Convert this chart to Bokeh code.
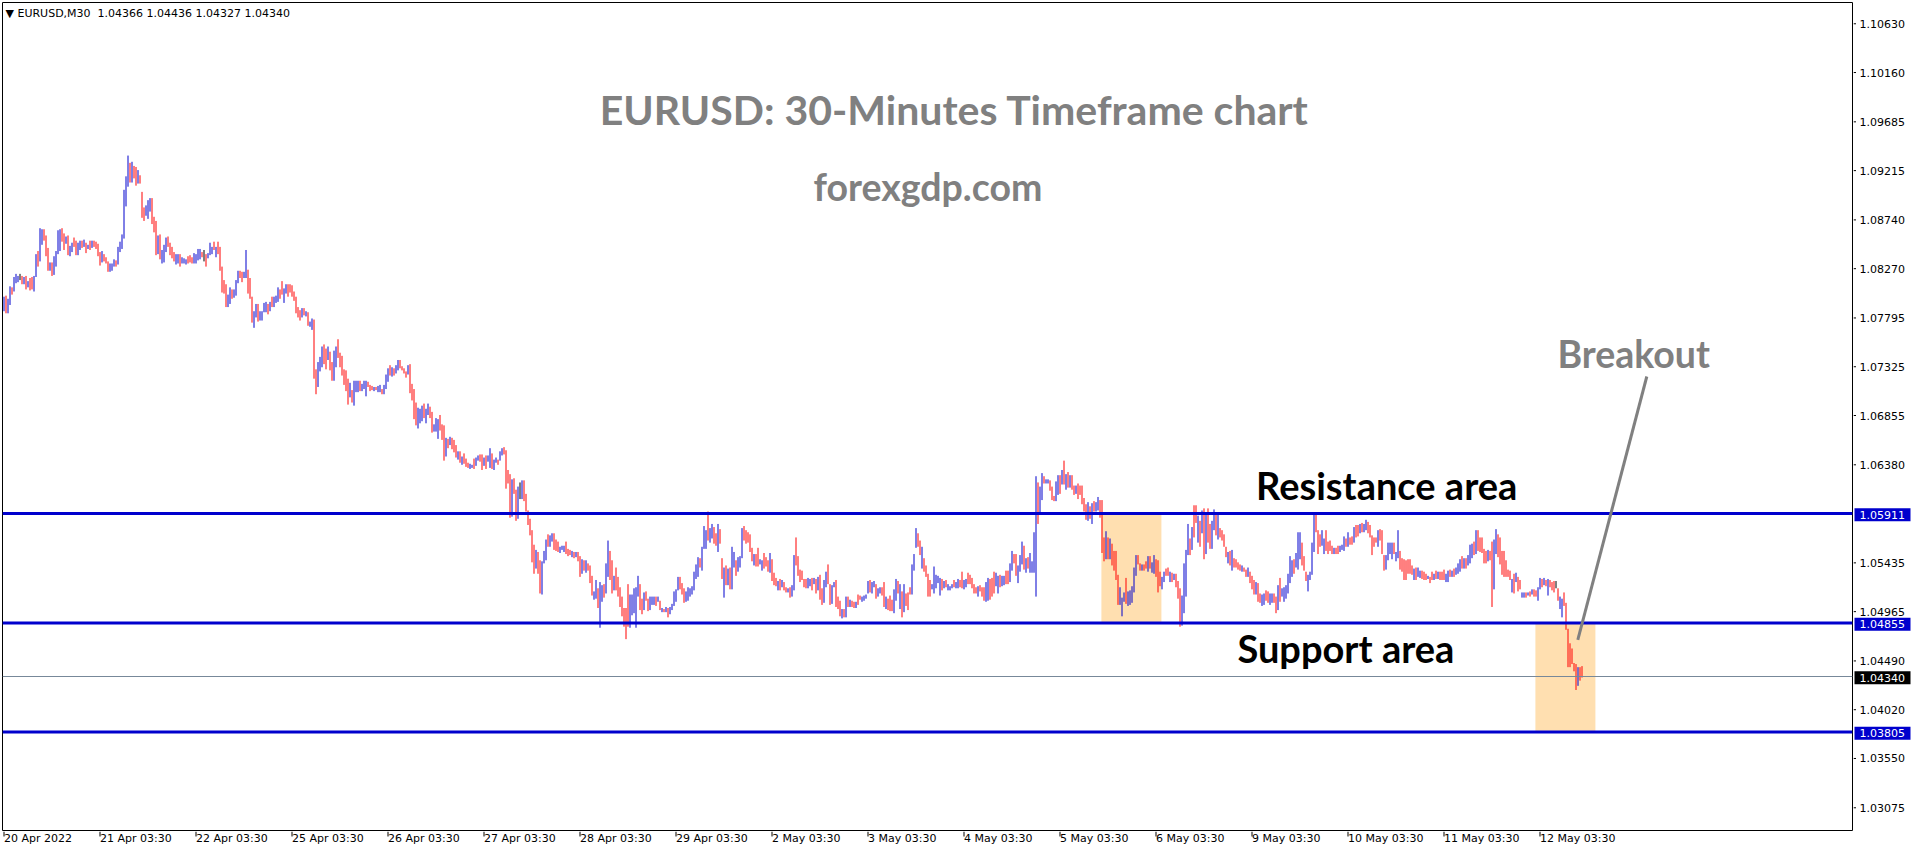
from bokeh.plotting import figure
from bokeh.models import ColumnDataSource, Span, Label, Arrow, Range1d
from bokeh.layouts import row, column
from bokeh.core.properties import value
from bokeh.embed import file_html
from bokeh.resources import INLINE

# ---------------- data (EURUSD M30 bars) ----------------
HIGH = [
 1.0800,1.0801,1.0798,1.0810,1.0809,1.0819,1.0822,1.0820,1.0822,1.0820,1.0819,1.0820,1.0815,1.0818,1.0819,1.0820,
 1.0841,1.0844,1.0866,1.0865,1.0865,1.0859,1.0847,1.0833,1.0833,1.0839,1.0844,1.0864,1.0865,1.0866,1.0861,1.0858,
 1.0859,1.0849,1.0852,1.0857,1.0854,1.0852,1.0854,1.0854,1.0855,1.0852,1.0850,1.0854,1.0854,1.0854,1.0853,1.0851,
 1.0843,1.0844,1.0841,1.0838,1.0834,1.0832,1.0832,1.0836,1.0835,1.0848,1.0853,1.0860,1.0903,1.0916,1.0936,1.0929,
 1.0930,1.0926,1.0925,1.0922,1.0917,1.0901,1.0886,1.0888,1.0893,1.0895,1.0895,1.0877,1.0873,1.0859,1.0860,1.0845,
 1.0850,1.0857,1.0858,1.0852,1.0848,1.0843,1.0841,1.0841,1.0841,1.0838,1.0837,1.0836,1.0839,1.0840,1.0838,1.0842,
 1.0841,1.0846,1.0846,1.0843,1.0845,1.0841,1.0842,1.0852,1.0848,1.0853,1.0848,1.0853,1.0848,1.0829,1.0816,1.0812,
 1.0802,1.0809,1.0807,1.0807,1.0816,1.0825,1.0825,1.0824,1.0824,1.0845,1.0826,1.0818,1.0800,1.0786,1.0793,1.0793,
 1.0786,1.0786,1.0794,1.0795,1.0793,1.0795,1.0800,1.0800,1.0801,1.0809,1.0807,1.0815,1.0808,1.0812,1.0812,1.0812,
 1.0811,1.0805,1.0800,1.0790,1.0787,1.0789,1.0789,1.0786,1.0785,1.0776,1.0779,1.0778,1.0730,1.0737,1.0742,1.0752,
 1.0754,1.0750,1.0752,1.0747,1.0737,1.0748,1.0752,1.0759,1.0746,1.0743,1.0730,1.0729,1.0721,1.0717,1.0710,1.0719,
 1.0719,1.0719,1.0719,1.0716,1.0719,1.0719,1.0718,1.0715,1.0714,1.0713,1.0713,1.0714,1.0715,1.0711,1.0715,1.0725,
 1.0731,1.0734,1.0732,1.0731,1.0734,1.0739,1.0739,1.0733,1.0731,1.0728,1.0734,1.0735,1.0716,1.0711,1.0698,1.0693,
 1.0692,1.0695,1.0697,1.0692,1.0697,1.0694,1.0689,1.0677,1.0683,1.0682,1.0686,1.0677,1.0676,1.0664,1.0663,1.0665,
 1.0664,1.0662,1.0657,1.0651,1.0651,1.0646,1.0649,1.0644,1.0640,1.0639,1.0638,1.0644,1.0645,1.0647,1.0648,1.0648,
 1.0645,1.0647,1.0647,1.0654,1.0649,1.0643,1.0645,1.0643,1.0651,1.0654,1.0655,1.0652,1.0633,1.0629,1.0624,1.0625,
 1.0614,1.0617,1.0621,1.0623,1.0623,1.0610,1.0594,1.0586,1.0575,1.0561,1.0556,1.0554,1.0546,1.0545,1.0555,1.0566,
 1.0571,1.0570,1.0572,1.0572,1.0566,1.0564,1.0559,1.0560,1.0560,1.0564,1.0557,1.0556,1.0555,1.0554,1.0554,1.0554,
 1.0550,1.0547,1.0546,1.0546,1.0543,1.0541,1.0531,1.0516,1.0527,1.0519,1.0525,1.0522,1.0523,1.0543,1.0565,1.0555,
 1.0546,1.0531,1.0539,1.0530,1.0520,1.0511,1.0500,1.0500,1.0523,1.0513,1.0513,1.0519,1.0520,1.0531,1.0523,1.0509,
 1.0515,1.0516,1.0509,1.0511,1.0511,1.0511,1.0511,1.0511,1.0507,1.0500,1.0499,1.0501,1.0500,1.0501,1.0504,1.0516,
 1.0518,1.0530,1.0530,1.0524,1.0519,1.0516,1.0520,1.0519,1.0521,1.0535,1.0542,1.0549,1.0548,1.0559,1.0579,1.0575,
 1.0593,1.0577,1.0581,1.0578,1.0572,1.0581,1.0576,1.0548,1.0539,1.0541,1.0538,1.0539,1.0559,1.0554,1.0546,1.0549,
 1.0550,1.0577,1.0579,1.0575,1.0573,1.0571,1.0558,1.0552,1.0552,1.0558,1.0547,1.0546,1.0553,1.0549,1.0546,1.0553,
 1.0547,1.0534,1.0529,1.0526,1.0528,1.0527,1.0525,1.0520,1.0519,1.0520,1.0522,1.0551,1.0568,1.0550,1.0537,1.0536,
 1.0528,1.0528,1.0529,1.0528,1.0529,1.0529,1.0528,1.0530,1.0532,1.0519,1.0527,1.0535,1.0542,1.0523,1.0522,1.0525,
 1.0527,1.0511,1.0507,1.0499,1.0499,1.0511,1.0511,1.0508,1.0507,1.0506,1.0506,1.0513,1.0512,1.0511,1.0512,1.0513,
 1.0526,1.0527,1.0525,1.0526,1.0523,1.0519,1.0520,1.0520,1.0525,1.0511,1.0509,1.0512,1.0508,1.0518,1.0528,1.0526,
 1.0523,1.0516,1.0523,1.0514,1.0515,1.0520,1.0542,1.0552,1.0577,1.0572,1.0565,1.0559,1.0548,1.0541,1.0533,1.0527,
 1.0523,1.0540,1.0532,1.0531,1.0529,1.0528,1.0526,1.0527,1.0523,1.0521,1.0523,1.0527,1.0525,1.0528,1.0527,1.0535,
 1.0527,1.0528,1.0534,1.0532,1.0529,1.0523,1.0520,1.0521,1.0522,1.0520,1.0520,1.0525,1.0529,1.0528,1.0529,1.0535,
 1.0534,1.0531,1.0532,1.0531,1.0531,1.0536,1.0536,1.0543,1.0555,1.0552,1.0552,1.0541,1.0551,1.0564,1.0560,1.0548,
 1.0549,1.0553,1.0545,1.0573,1.0627,1.0621,1.0617,1.0630,1.0627,1.0624,1.0624,1.0623,1.0617,1.0608,1.0622,1.0628,
 1.0628,1.0633,1.0642,1.0629,1.0631,1.0628,1.0628,1.0618,1.0618,1.0620,1.0618,1.0618,1.0606,1.0600,1.0602,1.0598,
 1.0601,1.0603,1.0602,1.0607,1.0604,1.0604,1.0568,1.0574,1.0568,1.0567,1.0562,1.0555,1.0555,1.0532,1.0520,1.0510,
 1.0515,1.0529,1.0516,1.0517,1.0521,1.0539,1.0551,1.0551,1.0543,1.0542,1.0542,1.0545,1.0550,1.0550,1.0544,1.0551,
 1.0547,1.0546,1.0535,1.0530,1.0535,1.0538,1.0539,1.0535,1.0534,1.0533,1.0533,1.0526,1.0519,1.0512,1.0543,1.0556,
 1.0581,1.0567,1.0578,1.0599,1.0599,1.0589,1.0584,1.0594,1.0596,1.0592,1.0596,1.0581,1.0584,1.0595,1.0592,1.0592,
 1.0577,1.0575,1.0571,1.0559,1.0554,1.0555,1.0556,1.0548,1.0547,1.0544,1.0542,1.0541,1.0539,1.0537,1.0539,1.0535,
 1.0531,1.0527,1.0525,1.0524,1.0514,1.0513,1.0514,1.0517,1.0516,1.0514,1.0514,1.0514,1.0511,1.0522,1.0529,1.0519,
 1.0520,1.0522,1.0533,1.0550,1.0546,1.0547,1.0553,1.0573,1.0573,1.0563,1.0550,1.0535,1.0532,1.0535,1.0563,1.0591,
 1.0591,1.0575,1.0571,1.0575,1.0567,1.0575,1.0564,1.0565,1.0560,1.0558,1.0558,1.0560,1.0560,1.0561,1.0569,1.0567,
 1.0573,1.0568,1.0569,1.0578,1.0580,1.0580,1.0581,1.0582,1.0581,1.0585,1.0583,1.0580,1.0570,1.0568,1.0568,1.0575,
 1.0576,1.0575,1.0551,1.0551,1.0563,1.0563,1.0563,1.0563,1.0554,1.0575,1.0555,1.0548,1.0547,1.0546,1.0547,1.0547,
 1.0541,1.0538,1.0539,1.0539,1.0536,1.0536,1.0535,1.0533,1.0531,1.0530,1.0535,1.0533,1.0536,1.0535,1.0535,1.0535,
 1.0537,1.0533,1.0536,1.0537,1.0536,1.0538,1.0539,1.0543,1.0547,1.0550,1.0548,1.0548,1.0551,1.0561,1.0562,1.0564,
 1.0575,1.0575,1.0568,1.0568,1.0557,1.0555,1.0556,1.0555,1.0564,1.0566,1.0576,1.0571,1.0568,1.0555,1.0555,1.0546,
 1.0537,1.0536,1.0528,1.0533,1.0534,1.0530,1.0527,1.0515,1.0515,1.0515,1.0515,1.0516,1.0518,1.0518,1.0517,1.0520,
 1.0529,1.0528,1.0529,1.0527,1.0528,1.0527,1.0525,1.0526,1.0526,1.0519,1.0511,1.0509,1.0515,1.0505,1.0480,1.0466,
 1.0461,1.0447,1.0446,1.0443,1.0443,1.0444,
]
LOW = [
 1.0786,1.0784,1.0784,1.0792,1.0802,1.0805,1.0813,1.0814,1.0816,1.0812,1.0812,1.0807,1.0809,1.0806,1.0807,1.0805,
 1.0819,1.0829,1.0834,1.0850,1.0854,1.0839,1.0825,1.0825,1.0820,1.0821,1.0829,1.0841,1.0844,1.0853,1.0845,1.0851,
 1.0840,1.0839,1.0843,1.0848,1.0840,1.0840,1.0845,1.0847,1.0848,1.0842,1.0846,1.0845,1.0847,1.0848,1.0846,1.0839,
 1.0830,1.0833,1.0834,1.0832,1.0824,1.0824,1.0825,1.0829,1.0829,1.0831,1.0843,1.0846,1.0856,1.0887,1.0906,1.0910,
 1.0910,1.0914,1.0907,1.0909,1.0909,1.0876,1.0873,1.0878,1.0875,1.0882,1.0870,1.0862,1.0840,1.0841,1.0836,1.0832,
 1.0833,1.0843,1.0848,1.0840,1.0837,1.0834,1.0831,1.0832,1.0829,1.0832,1.0832,1.0831,1.0832,1.0833,1.0832,1.0832,
 1.0832,1.0835,1.0836,1.0838,1.0834,1.0829,1.0837,1.0840,1.0841,1.0845,1.0838,1.0841,1.0825,1.0804,1.0803,1.0790,
 1.0790,1.0793,1.0798,1.0799,1.0801,1.0813,1.0818,1.0814,1.0818,1.0818,1.0803,1.0798,1.0775,1.0770,1.0780,1.0776,
 1.0777,1.0777,1.0785,1.0785,1.0783,1.0786,1.0790,1.0790,1.0794,1.0795,1.0798,1.0802,1.0794,1.0803,1.0800,1.0804,
 1.0800,1.0796,1.0784,1.0780,1.0777,1.0780,1.0782,1.0781,1.0772,1.0771,1.0768,1.0721,1.0706,1.0713,1.0728,1.0732,
 1.0735,1.0730,1.0739,1.0729,1.0719,1.0719,1.0732,1.0741,1.0732,1.0724,1.0715,1.0709,1.0696,1.0703,1.0698,1.0695,
 1.0708,1.0708,1.0709,1.0709,1.0711,1.0704,1.0713,1.0709,1.0710,1.0709,1.0710,1.0708,1.0708,1.0706,1.0706,1.0711,
 1.0718,1.0724,1.0723,1.0724,1.0726,1.0729,1.0731,1.0729,1.0726,1.0722,1.0725,1.0707,1.0700,1.0682,1.0676,1.0673,
 1.0678,1.0680,1.0683,1.0678,1.0686,1.0683,1.0669,1.0670,1.0670,1.0663,1.0671,1.0662,1.0642,1.0646,1.0654,1.0657,
 1.0653,1.0650,1.0645,1.0643,1.0640,1.0638,1.0639,1.0636,1.0635,1.0634,1.0635,1.0634,1.0637,1.0642,1.0641,1.0633,
 1.0637,1.0634,1.0641,1.0635,1.0634,1.0633,1.0640,1.0638,1.0642,1.0647,1.0648,1.0615,1.0620,1.0587,1.0588,1.0610,
 1.0584,1.0586,1.0605,1.0605,1.0603,1.0593,1.0580,1.0570,1.0544,1.0533,1.0538,1.0533,1.0514,1.0513,1.0543,1.0546,
 1.0559,1.0559,1.0564,1.0556,1.0555,1.0554,1.0553,1.0556,1.0554,1.0552,1.0550,1.0551,1.0549,1.0548,1.0549,1.0545,
 1.0530,1.0533,1.0536,1.0534,1.0536,1.0524,1.0512,1.0508,1.0509,1.0500,1.0481,1.0506,1.0510,1.0514,1.0530,1.0527,
 1.0514,1.0517,1.0517,1.0511,1.0501,1.0492,1.0482,1.0470,1.0482,1.0481,1.0493,1.0495,1.0481,1.0511,1.0498,1.0494,
 1.0498,1.0507,1.0497,1.0498,1.0503,1.0503,1.0502,1.0506,1.0498,1.0496,1.0496,1.0496,1.0491,1.0494,1.0498,1.0502,
 1.0506,1.0517,1.0518,1.0513,1.0505,1.0506,1.0507,1.0511,1.0513,1.0517,1.0528,1.0530,1.0539,1.0536,1.0557,1.0557,
 1.0565,1.0563,1.0567,1.0562,1.0560,1.0554,1.0562,1.0528,1.0510,1.0522,1.0522,1.0518,1.0518,1.0539,1.0531,1.0535,
 1.0539,1.0548,1.0565,1.0562,1.0563,1.0554,1.0545,1.0541,1.0540,1.0540,1.0542,1.0536,1.0538,1.0540,1.0535,1.0534,
 1.0526,1.0522,1.0521,1.0517,1.0517,1.0520,1.0517,1.0515,1.0515,1.0510,1.0511,1.0517,1.0541,1.0531,1.0525,1.0527,
 1.0520,1.0519,1.0519,1.0521,1.0517,1.0523,1.0514,1.0517,1.0508,1.0503,1.0505,1.0520,1.0523,1.0503,1.0504,1.0520,
 1.0501,1.0499,1.0492,1.0490,1.0491,1.0491,1.0501,1.0501,1.0501,1.0500,1.0500,1.0503,1.0508,1.0506,1.0507,1.0509,
 1.0514,1.0515,1.0514,1.0520,1.0509,1.0511,1.0514,1.0512,1.0501,1.0499,1.0498,1.0497,1.0497,1.0495,1.0507,1.0514,
 1.0499,1.0491,1.0496,1.0502,1.0498,1.0513,1.0513,1.0536,1.0558,1.0559,1.0551,1.0538,1.0535,1.0530,1.0511,1.0511,
 1.0518,1.0514,1.0519,1.0524,1.0512,1.0517,1.0519,1.0520,1.0517,1.0517,1.0519,1.0520,1.0519,1.0519,1.0520,1.0519,
 1.0518,1.0520,1.0523,1.0523,1.0519,1.0514,1.0514,1.0511,1.0516,1.0511,1.0507,1.0506,1.0507,1.0508,1.0511,1.0514,
 1.0521,1.0514,1.0520,1.0521,1.0522,1.0523,1.0523,1.0525,1.0536,1.0543,1.0531,1.0524,1.0535,1.0542,1.0537,1.0534,
 1.0538,1.0534,1.0534,1.0534,1.0511,1.0581,1.0592,1.0604,1.0620,1.0620,1.0620,1.0613,1.0604,1.0603,1.0603,1.0609,
 1.0610,1.0619,1.0619,1.0614,1.0616,1.0616,1.0614,1.0609,1.0610,1.0605,1.0609,1.0600,1.0593,1.0585,1.0584,1.0586,
 1.0581,1.0593,1.0593,1.0594,1.0587,1.0553,1.0545,1.0547,1.0547,1.0547,1.0541,1.0536,1.0527,1.0503,1.0503,1.0492,
 1.0506,1.0504,1.0502,1.0503,1.0505,1.0515,1.0531,1.0542,1.0536,1.0536,1.0536,1.0538,1.0535,1.0538,1.0534,1.0533,
 1.0530,1.0515,1.0521,1.0518,1.0525,1.0531,1.0531,1.0525,1.0525,1.0527,1.0520,1.0509,1.0482,1.0483,1.0495,1.0511,
 1.0551,1.0551,1.0556,1.0568,1.0582,1.0563,1.0559,1.0572,1.0547,1.0552,1.0563,1.0557,1.0557,1.0575,1.0570,1.0566,
 1.0568,1.0565,1.0559,1.0549,1.0543,1.0541,1.0536,1.0539,1.0539,1.0537,1.0536,1.0535,1.0535,1.0530,1.0530,1.0524,
 1.0518,1.0513,1.0513,1.0506,1.0505,1.0502,1.0503,1.0507,1.0505,1.0503,1.0505,1.0505,1.0495,1.0498,1.0506,1.0511,
 1.0506,1.0509,1.0514,1.0524,1.0530,1.0533,1.0539,1.0537,1.0547,1.0541,1.0536,1.0526,1.0516,1.0527,1.0532,1.0554,
 1.0573,1.0552,1.0559,1.0560,1.0552,1.0555,1.0552,1.0555,1.0552,1.0552,1.0552,1.0552,1.0554,1.0556,1.0555,1.0559,
 1.0559,1.0561,1.0561,1.0563,1.0568,1.0569,1.0572,1.0573,1.0573,1.0575,1.0572,1.0568,1.0551,1.0559,1.0563,1.0559,
 1.0565,1.0552,1.0536,1.0537,1.0546,1.0552,1.0547,1.0552,1.0545,1.0548,1.0537,1.0535,1.0527,1.0527,1.0533,1.0533,
 1.0532,1.0527,1.0527,1.0530,1.0529,1.0528,1.0527,1.0527,1.0528,1.0524,1.0527,1.0527,1.0528,1.0528,1.0527,1.0527,
 1.0527,1.0525,1.0525,1.0530,1.0530,1.0530,1.0532,1.0533,1.0535,1.0538,1.0538,1.0538,1.0541,1.0543,1.0548,1.0551,
 1.0552,1.0555,1.0554,1.0553,1.0543,1.0543,1.0545,1.0546,1.0501,1.0518,1.0552,1.0549,1.0542,1.0532,1.0530,1.0530,
 1.0530,1.0527,1.0515,1.0514,1.0525,1.0516,1.0518,1.0510,1.0510,1.0510,1.0512,1.0511,1.0513,1.0511,1.0511,1.0507,
 1.0518,1.0520,1.0522,1.0521,1.0512,1.0520,1.0517,1.0515,1.0519,1.0507,1.0499,1.0491,1.0502,1.0479,1.0443,1.0443,
 1.0446,1.0439,1.0421,1.0425,1.0430,1.0433,
]
# bar direction: u = bullish (blue), d = bearish (red), n = unchanged (black)
DIRS = "".join([
 "uduu","duuu","ndud","uddu", "uduu","dddu","duuu","uddu", "duud","duud","udud","uddd",
 "dudd","duuu","duuu","uuud", "uddu","dddu","uudd","dudu", "uudd","dduu","duuu","dddu",
 "uuud","nduu","udud","dddd", "uudu","uudd","uudd","duud", "uuuu","dudu","uudd","uudd",
 "dddd","dudu","duud","duuu", "ddud","duud","dddd","dudu", "uudu","uudd","dudu","uduu",
 "udud","uudd","ddud","dddu", "uudu","uddu","uudd","dudu", "dddu","dudd","duud","uudd",
 "uduu","duud","uudd","ddud", "dunu","dddd","ddud","duuu", "duud","dduu","uddd","udud",
 "dudu","dddu","uduu","duud", "dudd","dddd","duuu","uudd", "uddu","uudu","dudu","duuu",
 "uudd","duuu","uuuu","duuu", "duud","dudd","udud","uudu", "uudd","dddu","dduu","dddu",
 "dddu","dudd","uduu","dddd", "dduu","dudu","dduu","dduu", "dddu","dudu","ddud","duuu",
 "uduu","duud","dudd","duud", "udud","dduu","uddu","dddd", "uuuu","udud","uuud","uudd",
 "uudd","dddu","dddu","uddd", "uudu","uddu","uddu","uudu", "duuu","uduu","duud","dduu",
 "dudu","dudd","uddd","ddud", "uduu","dddu","dudd","dduu", "uduu","uuud","dudd","uduu",
 "dddu","uddu","dudd","duuu", "udud","dudu","dudd","uudu", "dddd","udud","dddu","ddud",
 "ddud","duud","duud","dudu", "uuuu","uduu","uddd","uuuu", "dddu","uddd","dudd","uuud",
 "uddu","ddud","uudd","dddu", "dddu","uuud","uudd","dddd", "dudu","uddd","uddu","dudd",
 "duud","uduu","udud","uuud", "uddd","ddud","duud","dddd", "ddud","uddu","udud","uddu",
 "udud","uddd","nduu","dddd", "dddu","dd",
])

BARS_PER_LABEL = 48
TICK_LABELS = ["20 Apr 2022", "21 Apr 03:30", "22 Apr 03:30", "25 Apr 03:30", "26 Apr 03:30",
               "27 Apr 03:30", "28 Apr 03:30", "29 Apr 03:30", "2 May 03:30", "3 May 03:30",
               "4 May 03:30", "5 May 03:30", "6 May 03:30", "9 May 03:30", "10 May 03:30",
               "11 May 03:30", "12 May 03:30"]
PRICE_TICKS = [1.10630, 1.10160, 1.09685, 1.09215, 1.08740, 1.08270, 1.07795, 1.07325,
               1.06855, 1.06380, 1.05435, 1.04965, 1.04490, 1.04020, 1.03550, 1.03075]
LEVELS = [1.05911, 1.04855, 1.03805]          # resistance / support / lower support
LAST_PRICE = 1.04340
HEADER_OHLC = [1.04366, 1.04436, 1.04327, 1.04340]
ZONE_LEFT = [548.7, 765.7]                    # bar index
ZONE_RIGHT = [578.7, 795.7]
ZONE_TOP = [1.05911, 1.04855]
ZONE_BOTTOM = [1.04855, 1.03805]

# ---------------- build ----------------
BLUE, RED = "#0000CD", "#FF0000"
FONT = value("DejaVu Sans")
PX = 1.0 / 10378.0          # price per screen pixel
n = min(len(HIGH), len(LOW))
dirs = (DIRS + "u" * n)[:n]
cmap = {"u": BLUE, "d": RED, "n": "#000000"}
src = ColumnDataSource(dict(
    x=list(range(n)), low=LOW[:n], high=HIGH[:n], color=[cmap[c] for c in dirs]))

xr = Range1d(-0.75, 924.25)
yr = Range1d(1.02856, 1.10835)

def bare(fig):
    fig.outline_line_color = None
    fig.background_fill_color = "white"
    fig.border_fill_color = "white"
    fig.xgrid.visible = False
    fig.ygrid.visible = False
    return fig

# main chart area
p = bare(figure(width=1853, height=831, x_range=xr, y_range=yr, output_backend="svg",
                toolbar_location=None, x_axis_location=None, y_axis_location=None,
                min_border_left=2, min_border_right=1, min_border_top=2, min_border_bottom=1))
p.outline_line_color = "black"

p.quad(left=ZONE_LEFT, right=ZONE_RIGHT, top=ZONE_TOP, bottom=ZONE_BOTTOM,
       fill_color="#FFDFB0", line_color=None)
p.segment(x0="x", y0="low", x1="x", y1="high", line_color="color",
          line_width=1, line_cap="butt", source=src)

p.add_layout(Span(location=LAST_PRICE, dimension="width", line_color="#778899", line_width=1))
for lv in LEVELS:
    p.add_layout(Span(location=lv, dimension="width", line_color=BLUE, line_width=3))

p.add_layout(Arrow(end=None, x_start=821.4, y_start=1.07231, x_end=786.9, y_end=1.04694,
                   line_color="#808080", line_width=3))

def lab(x, y, text, size, color, align="left", font="Lato", style="bold"):
    p.add_layout(Label(x=x, y=y, text=text, text_font=font, text_font_style=style,
                       text_font_size=size, text_color=color, text_align=align,
                       text_baseline="middle"))

lab(475.2, 1.09801, "EURUSD: 30-Minutes Timeframe chart", "41px", "#808080", align="center")
lab(462.0, 1.09060, "forexgdp.com", "37.5px", "#808080", align="center")
lab(626.0, 1.06190, "Resistance area", "38px", "black")
lab(616.7, 1.04615, "Support area", "38px", "black")
lab(776.7, 1.07450, "Breakout", "37.5px", "#808080")
header = "\u25bc EURUSD,M30\u00a0\u00a0" + " ".join(f"{v:.5f}" for v in HEADER_OHLC)
lab(0.75, 1.10733, header, "11px", "black", font="DejaVu Sans", style="normal")

# right price scale
s = bare(figure(width=62, height=831, x_range=Range1d(0, 62), y_range=yr, output_backend="svg",
                toolbar_location=None, x_axis_location=None, y_axis_location=None,
                min_border_left=0, min_border_right=0, min_border_top=2, min_border_bottom=1))
nt = len(PRICE_TICKS)
s.segment(x0=[0] * nt, x1=[2.5] * nt, y0=PRICE_TICKS, y1=PRICE_TICKS,
          line_color="black", line_width=1)
s.text(x=[6] * nt, y=PRICE_TICKS, text=[f"{t:.5f}" for t in PRICE_TICKS],
       text_font=FONT, text_font_size="11px", text_color="black",
       text_align="left", text_baseline="middle")
box_y = LEVELS + [LAST_PRICE]
box_c = [BLUE] * len(LEVELS) + ["#000000"]
box_mid = [v - 1.2 * PX for v in box_y]
s.quad(left=[1] * len(box_y), right=[57] * len(box_y),
       top=[v + 6.5 * PX for v in box_mid], bottom=[v - 6.5 * PX for v in box_mid],
       fill_color=box_c, line_color=None)
s.text(x=[6] * len(box_y), y=box_mid, text=[f"{v:.5f}" for v in box_y],
       text_font=FONT, text_font_size="11px", text_color="white",
       text_align="left", text_baseline="middle")

# bottom time scale
b = bare(figure(width=1853, height=18, x_range=xr, y_range=Range1d(0, 18), output_backend="svg",
                toolbar_location=None, x_axis_location=None, y_axis_location=None,
                min_border_left=2, min_border_right=1, min_border_top=0, min_border_bottom=0))
xt = [k * BARS_PER_LABEL for k in range(len(TICK_LABELS))]
b.segment(x0=xt, x1=xt, y0=[18] * len(xt), y1=[13] * len(xt), line_color="black", line_width=1)
b.text(x=xt, y=[18] * len(xt), text=TICK_LABELS, text_font=FONT, text_font_size="11px",
       text_color="black", text_align="left", text_baseline="top")

layout = column(row(p, s, spacing=0), b, spacing=0)
open("out.html", "w").write(file_html(layout, INLINE))
